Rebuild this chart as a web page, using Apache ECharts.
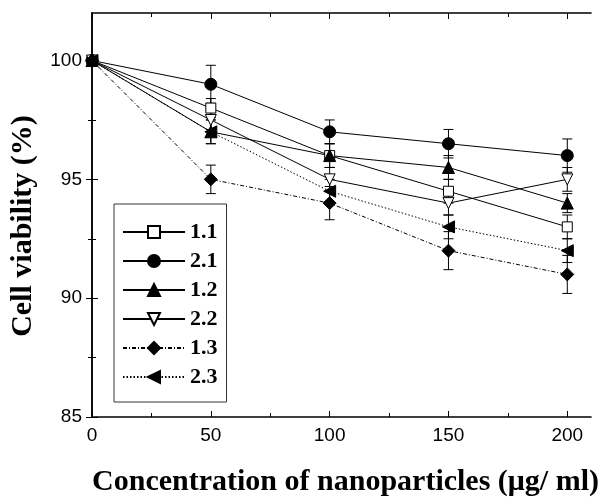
<!DOCTYPE html>
<html><head><meta charset="utf-8">
<script src="https://cdn.jsdelivr.net/npm/echarts@6/dist/echarts.min.js"></script>
<style>html,body{margin:0;padding:0;background:#fff}#c{width:602px;height:502px}</style>
</head><body><div id="c"></div>
<script>
const xValues = [0, 50, 100, 150, 200];
const seriesNames = ['1.1', '2.1', '1.2', '2.2', '1.3', '2.3'];
const v11 = [100, 98, 96, 94.5, 93];
const v21 = [100, 99, 97, 96.5, 96];
const v12 = [100, 97, 96, 95.5, 94];
const v22 = [100, 97.5, 95, 94, 95];
const v13 = [100, 95, 94, 92, 91];
const v23 = [100, 97, 94.5, 93, 92];
const e11 = [0, 0.4, 0.5, 0.5, 0.5];
const e21 = [0, 0.8, 0.5, 0.6, 0.7];
const e12 = [0, 0.5, 0.5, 0.5, 0.4];
const e22 = [0, 0.4, 0.5, 0.5, 0.5];
const e13 = [0, 0.6, 0.7, 0.8, 0.8];
const e23 = [0, 0.5, 0.5, 0.5, 0.5];
const xMajorTicks = [0, 50, 100, 150, 200];
const xMinorTicks = [25, 75, 125, 175];
const yMajorTicks = [85, 90, 95, 100];
const yMinorTicks = [87.5, 92.5, 97.5];

const values = [v11, v21, v12, v22, v13, v23];
const errors = [e11, e21, e12, e22, e13, e23];
const diamond = 'path://M0,-1L1,0L0,1L-1,0Z';
const styles = [
  {symbol: 'rect', size: 10, rot: 0, fill: '#fff', line: 'solid'},
  {symbol: 'circle', size: 12, rot: 0, fill: '#000', line: 'solid'},
  {symbol: 'triangle', size: 12, rot: 0, fill: '#000', line: 'solid'},
  {symbol: 'triangle', size: 11, rot: 180, fill: '#fff', line: 'solid'},
  {symbol: diamond, size: 13, rot: 0, fill: '#000', line: [4, 2, 1, 2]},
  {symbol: 'triangle', size: 12, rot: 90, fill: '#000', line: [1.5, 2]}
];

const black = '#000';
const XMIN = 0, XMAX = 210, YMIN = 85, YMAX = 102;
const labelFont = {color: black, fontSize: 19, fontFamily: 'Liberation Sans, Arial'};
function xAx(pos, ticks, len, labels, line) {
  return {type: 'value', position: pos, min: XMIN, max: XMAX,
    axisLine: {show: line, lineStyle: {color: black, width: 1.5}},
    axisTick: {show: true, inside: true, length: len, customValues: ticks, lineStyle: {color: black, width: 1}},
    axisLabel: Object.assign({show: labels, customValues: ticks, margin: 9}, labelFont),
    splitLine: {show: false}};
}
function yAx(pos, ticks, len, labels, line) {
  return {type: 'value', position: pos, min: YMIN, max: YMAX,
    axisLine: {show: line, lineStyle: {color: black, width: 1.5}},
    axisTick: {show: true, inside: true, length: len, customValues: ticks, lineStyle: {color: black, width: 1}},
    axisLabel: Object.assign({show: labels, customValues: ticks, margin: 10}, labelFont),
    splitLine: {show: false}};
}
const xAxes = [xAx('bottom', xMajorTicks, 6, true, true), xAx('bottom', xMinorTicks, 4, false, false),
  xAx('top', xMajorTicks, 6, false, true), xAx('top', xMinorTicks, 4, false, false)];
const yAxes = [yAx('left', yMajorTicks, 6, true, true), yAx('left', yMinorTicks, 4, false, false),
  yAx('right', yMajorTicks, 6, false, true), yAx('right', yMinorTicks, 4, false, false)];
xAxes[0].name = 'Concentration of nanoparticles (μg/ ml)';
xAxes[0].nameLocation = 'middle';
xAxes[0].nameGap = 50;
xAxes[0].nameTextStyle = {color: black, fontSize: 30, fontWeight: 'bold', fontFamily: 'Liberation Serif, Times New Roman', padding: [0, 0, 0, 8]};
yAxes[0].name = 'Cell viability (%)';
yAxes[0].nameLocation = 'middle';
yAxes[0].nameGap = 54;
yAxes[0].nameTextStyle = {color: black, fontSize: 30, fontWeight: 'bold', fontFamily: 'Liberation Serif, Times New Roman', padding: [0, 22, 0, 0]};

const series = [];
seriesNames.forEach((name, i) => {
  const st = styles[i];
  series.push({
    name: name, type: 'line', xAxisIndex: 0, yAxisIndex: 0,
    data: xValues.map((x, j) => [x, values[i][j]]),
    symbol: st.symbol, symbolSize: st.size, symbolRotate: st.rot, showAllSymbol: true,
    lineStyle: {color: black, width: 1, type: st.line},
    itemStyle: {color: st.fill, borderColor: black, borderWidth: 1},
    emphasis: {disabled: true}, animation: false, z: 3
  });
  series.push({
    name: name + ' err', type: 'custom', xAxisIndex: 0, yAxisIndex: 0,
    data: xValues.map((x, j) => [x, values[i][j] - errors[i][j], values[i][j] + errors[i][j]]),
    renderItem: function (params, api) {
      const lo = api.coord([api.value(0), api.value(1)]);
      const hi = api.coord([api.value(0), api.value(2)]);
      if (Math.abs(hi[1] - lo[1]) < 0.5) return null;
      const w = 5;
      const s = {stroke: black, lineWidth: 1};
      return {type: 'group', children: [
        {type: 'line', shape: {x1: lo[0], y1: lo[1], x2: hi[0], y2: hi[1]}, style: s},
        {type: 'line', shape: {x1: lo[0] - w, y1: lo[1], x2: lo[0] + w, y2: lo[1]}, style: s},
        {type: 'line', shape: {x1: hi[0] - w, y1: hi[1], x2: hi[0] + w, y2: hi[1]}, style: s}
      ]};
    },
    animation: false, z: 2, silent: true
  });
});

const chart = echarts.init(document.getElementById('c'), null, {renderer: 'canvas'});
chart.setOption({
  backgroundColor: '#fff',
  animation: false,
  grid: {left: 92, top: 13, right: 8, bottom: 81, containLabel: false},
  xAxis: xAxes,
  yAxis: yAxes,
  legend: {
    data: seriesNames, orient: 'vertical', left: 114, top: 204,
    padding: [17, 9, 14, 8], itemGap: 7, itemWidth: 62, itemHeight: 15,
    borderColor: '#333', borderWidth: 1, backgroundColor: '#fff',
    selectedMode: false,
    textStyle: {color: black, fontSize: 22, fontWeight: 'bold', fontFamily: 'Liberation Serif, Times New Roman', lineHeight: 22}
  },
  series: series
});
</script></body></html>
